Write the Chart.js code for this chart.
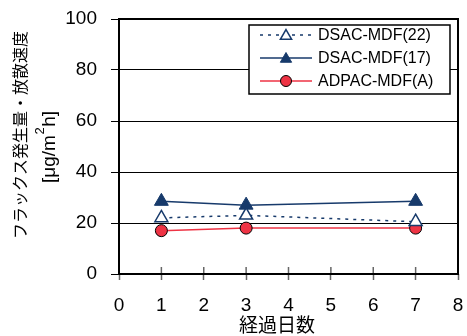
<!DOCTYPE html>
<html>
<head>
<meta charset="utf-8">
<script src="https://cdn.jsdelivr.net/npm/chart.js@4.4.1/dist/chart.umd.min.js"></script>
<style>
  html, body { margin: 0; padding: 0; background: #fff; }
  #wrap { width: 467px; height: 336px; }
</style>
</head>
<body>
<div id="wrap"><canvas id="chart"></canvas></div>
<script>
// data
const days = [1, 3, 7];
const seriesNames = ["DSAC-MDF(22)", "DSAC-MDF(17)", "ADPAC-MDF(A)"];
const dsac22 = [22, 23, 20.5];
const dsac17 = [28.5, 27, 28.5];
const adpacA = [17, 18, 18];
const xTicks = [0, 1, 2, 3, 4, 5, 6, 7, 8];
const yTicks = [0, 20, 40, 60, 80, 100];
const yTitle = ["フラックス発生量・放散速度", "[μg/m", "2", "h]"];
const xTitle = "経過日数";

const LATIN = '"Liberation Sans", Arial, "Noto Sans CJK JP", sans-serif';
const CJK = '"Noto Sans CJK JP", "Liberation Sans", sans-serif';
const NAVY = "#173a6b";
const RED = "#ee3344";

function points(vals) {
  return days.map(function (d, i) { return { x: d, y: vals[i] }; });
}

// frame, axis titles and the boxed legend
const decorations = {
  id: "decorations",
  beforeDatasetsDraw: function (chart) {
    const ctx = chart.ctx;
    const a = chart.chartArea;
    ctx.save();
    // small inner tick marks on the x axis
    ctx.strokeStyle = "#666";
    ctx.lineWidth = 1.5;
    chart.scales.x.ticks.forEach(function (t) {
      const px = chart.scales.x.getPixelForValue(t.value);
      ctx.beginPath();
      ctx.moveTo(px, a.bottom);
      ctx.lineTo(px, a.bottom - 7);
      ctx.stroke();
    });
    ctx.strokeStyle = "#000";
    ctx.lineWidth = 2;
    ctx.strokeRect(a.left, a.top, a.right - a.left, a.bottom - a.top);
    ctx.restore();
  },
  afterDraw: function (chart) {
    const ctx = chart.ctx;
    const a = chart.chartArea;
    ctx.save();
    ctx.fillStyle = "#000";
    ctx.textAlign = "center";
    ctx.textBaseline = "middle";

    ctx.save();
    ctx.translate(20, 135);
    ctx.rotate(-Math.PI / 2);
    ctx.font = "16px " + CJK;
    ctx.fillText(yTitle[0], 0, 0);
    ctx.restore();

    // unit line with a raised 2
    ctx.save();
    ctx.translate(50, 147);
    ctx.rotate(-Math.PI / 2);
    ctx.textAlign = "left";
    const big = "19px " + LATIN, small = "13px " + LATIN;
    ctx.font = big;
    const w1 = ctx.measureText(yTitle[1]).width;
    const w3 = ctx.measureText(yTitle[3]).width;
    ctx.font = small;
    const w2 = ctx.measureText(yTitle[2]).width + 1;
    let x = -(w1 + w2 + w3) / 2;
    ctx.font = big;
    ctx.fillText(yTitle[1], x, 0);
    x += w1;
    ctx.font = small;
    ctx.fillText(yTitle[2], x + 0.5, -10);
    x += w2;
    ctx.font = big;
    ctx.fillText(yTitle[3], x, 0);
    ctx.restore();

    ctx.font = "19px " + CJK;
    ctx.fillText(xTitle, 277, 325);

    // legend
    const bx = a.right - 209, by = a.top + 6, bw = 201, bh = 69;
    ctx.fillStyle = "#fff";
    ctx.fillRect(bx, by, bw, bh);
    ctx.strokeStyle = "#000";
    ctx.lineWidth = 1.5;
    ctx.strokeRect(bx, by, bw, bh);

    chart.data.datasets.forEach(function (ds, i) {
      const y = by + 10 + i * 23;
      const x0 = bx + 11, x1 = bx + 63, xm = (x0 + x1) / 2;
      ctx.save();
      ctx.strokeStyle = ds.borderColor;
      ctx.lineWidth = ds.borderWidth;
      ctx.setLineDash(ds.borderDash || []);
      ctx.beginPath();
      ctx.moveTo(x0, y);
      ctx.lineTo(x1, y);
      ctx.stroke();
      ctx.setLineDash([]);
      ctx.fillStyle = ds.pointBackgroundColor;
      ctx.strokeStyle = ds.pointBorderColor;
      ctx.lineWidth = ds.pointBorderWidth;
      Chart.helpers.drawPoint(ctx, {
        pointStyle: ds.pointStyle,
        radius: ds.pointStyle === "circle" ? 5.5 : 6.5,
        borderWidth: ds.pointBorderWidth,
        rotation: 0
      }, xm, y + (ds.pointStyle === "circle" ? 0 : 1));
      ctx.restore();

      ctx.fillStyle = "#000";
      ctx.textAlign = "left";
      ctx.font = "16px " + LATIN;
      ctx.fillText(ds.label, bx + 69, y + 1);
    });
    ctx.restore();
  }
};

new Chart(document.getElementById("chart"), {
  type: "line",
  data: {
    datasets: [
      {
        label: seriesNames[0],
        data: points(dsac22),
        borderColor: NAVY,
        borderWidth: 1.5,
        borderDash: [3, 5],
        pointStyle: "triangle",
        pointRadius: 7.5,
        pointBackgroundColor: "#fff",
        pointBorderColor: NAVY,
        pointBorderWidth: 1.5
      },
      {
        label: seriesNames[1],
        data: points(dsac17),
        borderColor: NAVY,
        borderWidth: 1.5,
        pointStyle: "triangle",
        pointRadius: 8,
        pointBackgroundColor: NAVY,
        pointBorderColor: NAVY,
        pointBorderWidth: 1
      },
      {
        label: seriesNames[2],
        data: points(adpacA),
        borderColor: RED,
        borderWidth: 1.5,
        pointStyle: "circle",
        pointRadius: 6,
        pointBackgroundColor: RED,
        pointBorderColor: "#000",
        pointBorderWidth: 1
      }
    ]
  },
  options: {
    responsive: true,
    maintainAspectRatio: false,
    animation: false,
    layout: { padding: { top: 19, right: 8, left: 0, bottom: 0 } },
    plugins: {
      legend: { display: false },
      tooltip: { enabled: false }
    },
    scales: {
      x: {
        type: "linear",
        min: xTicks[0],
        max: xTicks[xTicks.length - 1],
        ticks: {
          stepSize: xTicks[1] - xTicks[0],
          color: "#000",
          padding: 14,
          font: { family: LATIN, size: 19 }
        },
        grid: {
          drawOnChartArea: false,
          color: "#666",
          tickLength: 6,
          tickWidth: 1.5
        },
        border: { display: false },
        afterFit: function (s) {
          s.height = 62;
          s.paddingLeft = 0;
          s.paddingRight = 0;
        }
      },
      y: {
        min: yTicks[0],
        max: yTicks[yTicks.length - 1],
        ticks: {
          stepSize: yTicks[1] - yTicks[0],
          color: "#000",
          padding: 14,
          font: { family: LATIN, size: 19 }
        },
        grid: {
          color: "#000",
          lineWidth: 1,
          tickLength: 8
        },
        border: { display: false },
        afterFit: function (s) {
          s.width = 119;
          s.paddingTop = 0;
          s.paddingBottom = 0;
        }
      }
    }
  },
  plugins: [decorations]
});
</script>
</body>
</html>
